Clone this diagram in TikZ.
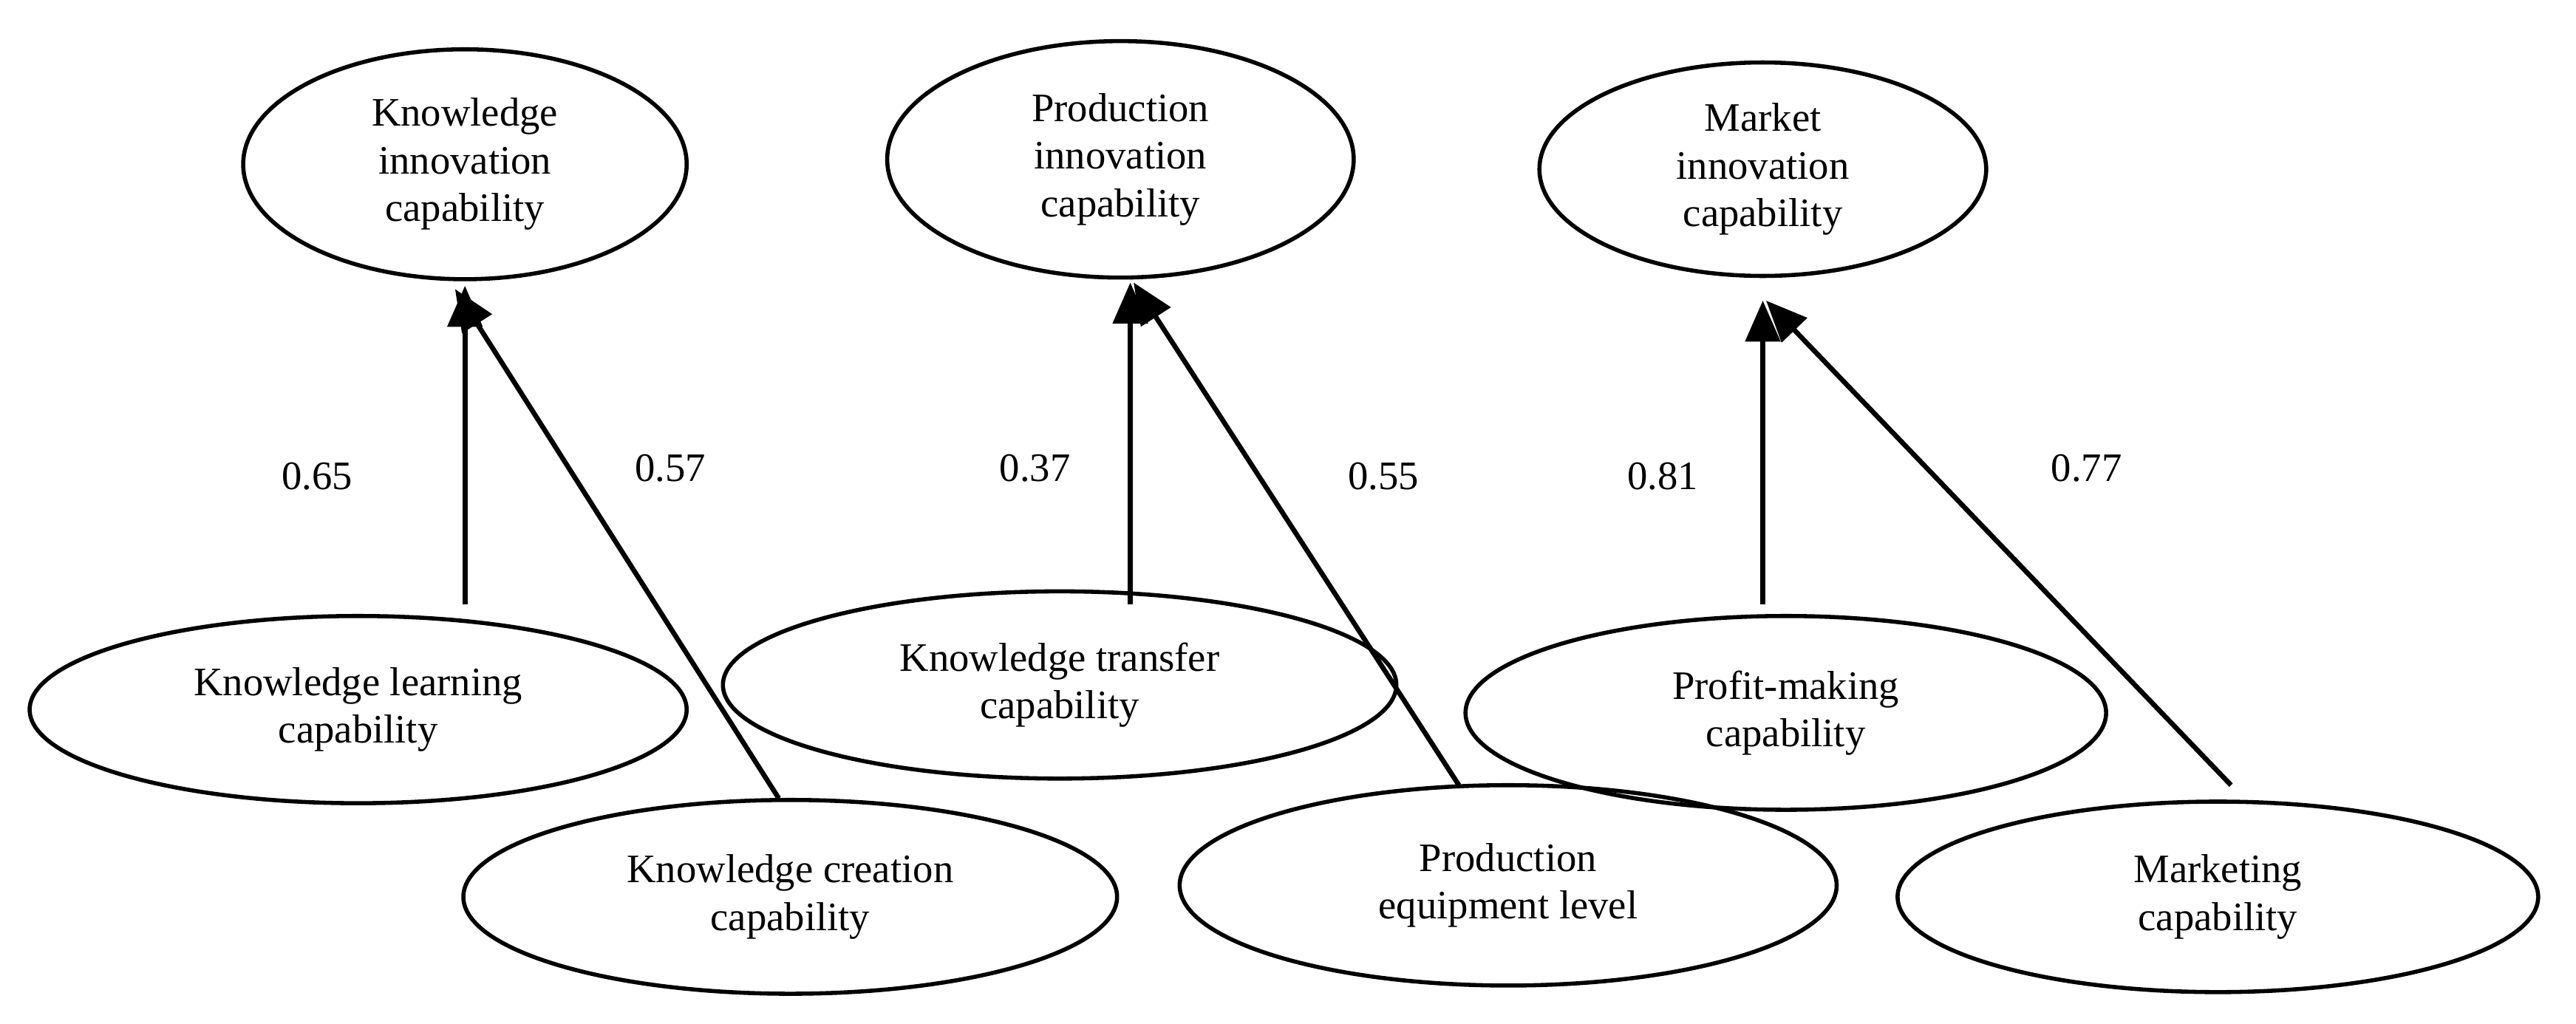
\documentclass[tikz,border=0pt]{standalone}
\usepackage{fontspec}
\setmainfont{Liberation Serif}
\usetikzlibrary{arrows.meta,shapes.geometric}
\begin{document}
\begin{tikzpicture}[x=0.02cm,y=-0.02cm,
  ell/.style={draw,line width=0.05cm,ellipse,align=center,font=\fontsize{14}{16.5}\selectfont,inner sep=0pt},
  arr/.style={line width=0.06cm,-{Triangle[length=0.5cm,width=0.42cm]}},
  lab/.style={font=\fontsize{14}{16}\selectfont}]
\useasboundingbox (0,0) rectangle (1568,623);
\node[ell,minimum width=5.4cm,minimum height=2.8cm] (t1) at (283,100) {Knowledge\\innovation\\capability};
\node[ell,minimum width=5.68cm,minimum height=2.88cm] (t2) at (682,97) {Production\\innovation\\capability};
\node[ell,minimum width=5.44cm,minimum height=2.6cm] (t3) at (1073,103) {Market\\innovation\\capability};
\node[ell,minimum width=8cm,minimum height=2.28cm] (b1) at (218,432) {Knowledge learning\\capability};
\node[ell,minimum width=7.96cm,minimum height=2.36cm] (b2) at (481,546) {Knowledge creation\\capability};
\node[ell,minimum width=8.2cm,minimum height=2.28cm] (b3) at (645,417) {Knowledge transfer\\capability};
\node[ell,minimum width=8cm,minimum height=2.44cm] (b4) at (918,539) {Production\\equipment level};
\node[ell,minimum width=7.8cm,minimum height=2.36cm] (b5) at (1087,434) {Profit-making\\capability};
\node[ell,minimum width=7.8cm,minimum height=2.32cm] (b6) at (1350,546) {Marketing\\capability};
\coordinate (s1) at (283,368); \coordinate (e1) at (283,174);
\coordinate (s2) at (474,486); \coordinate (e2) at (277,176);
\coordinate (s3) at (688,368); \coordinate (e3) at (688,172);
\coordinate (s4) at (888,478); \coordinate (e4) at (690,172);
\coordinate (s5) at (1073,368); \coordinate (e5) at (1073,183);
\coordinate (s6) at (1358,478); \coordinate (e6) at (1075,183);
\draw[arr] (s1) -- (e1);
\draw[arr] (s2) -- (e2);
\draw[arr] (s3) -- (e3);
\draw[arr] (s4) -- (e4);
\draw[arr] (s5) -- (e5);
\draw[arr] (s6) -- (e6);
\node[lab] (l1) at (193,290) {0.65};
\node[lab] (l2) at (408,285) {0.57};
\node[lab] (l3) at (630,285) {0.37};
\node[lab] (l4) at (842,290) {0.55};
\node[lab] (l5) at (1012,290) {0.81};
\node[lab] (l6) at (1270,285) {0.77};
\end{tikzpicture}
\end{document}
